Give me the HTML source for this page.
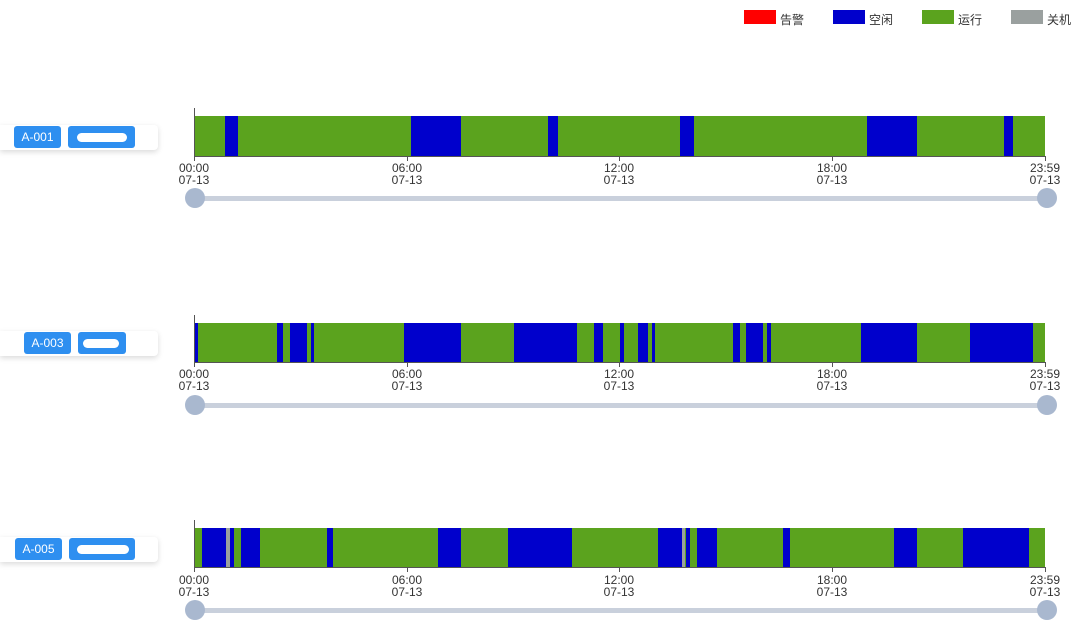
<!DOCTYPE html>
<html><head><meta charset="utf-8"><style>
body{margin:0;width:1080px;height:637px;background:#fff;overflow:hidden;font-family:"Liberation Sans","Noto Sans CJK SC",sans-serif}
.card{position:absolute;left:0;width:158px;height:25px;background:#fff;box-shadow:0 2px 6px rgba(0,0,0,.15);border-radius:0 4px 4px 0}
.pill{position:absolute;top:1px;height:22px;background:#2e8ff0;border-radius:3px;color:#fff;font-size:12px;line-height:22px;text-align:center}
.blob{position:absolute;top:7px;height:9px;background:#fff;border-radius:5px}
svg{position:absolute;left:0;top:0}
</style></head><body>
<div class="card" style="top:125px"><div class="pill" style="left:14px;width:47px">A-001</div><div class="pill" style="left:68px;width:67px"><div class="blob" style="left:9px;width:50px"></div></div></div>
<div class="card" style="top:331px"><div class="pill" style="left:24px;width:47px">A-003</div><div class="pill" style="left:78px;width:48px"><div class="blob" style="left:5px;width:36px"></div></div></div>
<div class="card" style="top:537px"><div class="pill" style="left:15px;width:47px">A-005</div><div class="pill" style="left:69px;width:66px"><div class="blob" style="left:8px;width:52px"></div></div></div>
<svg width="1080" height="637" font-family="Liberation Sans, Noto Sans CJK SC, sans-serif">
<g font-size="12" fill="#333">
<rect x="744" y="10" width="32" height="14" fill="#ff0000"/><text x="780" y="24">告警</text>
<rect x="833" y="10" width="32" height="14" fill="#0000cc"/><text x="869" y="24">空闲</text>
<rect x="922" y="10" width="32" height="14" fill="#5ba31e"/><text x="958" y="24">运行</text>
<rect x="1011" y="10" width="32" height="14" fill="#9aa09f"/><text x="1047" y="24">关机</text>
</g>
<!-- row 1 -->
<g>
<rect x="194" y="116" width="851" height="40" fill="#5ba31e"/>
<g fill="#0000cc">
<rect x="225" y="116" width="13" height="40"/><rect x="411" y="116" width="50" height="40"/><rect x="548" y="116" width="10" height="40"/><rect x="680" y="116" width="14" height="40"/><rect x="867" y="116" width="50" height="40"/><rect x="1004" y="116" width="9" height="40"/>
</g></g>
<!-- row 2 -->
<g>
<rect x="194" y="323" width="851" height="39" fill="#5ba31e"/>
<g fill="#0000cc">
<rect x="195" y="323" width="3" height="39"/><rect x="277" y="323" width="6" height="39"/><rect x="290" y="323" width="17" height="39"/><rect x="311" y="323" width="3" height="39"/><rect x="404" y="323" width="57" height="39"/><rect x="514" y="323" width="63" height="39"/><rect x="594" y="323" width="9" height="39"/><rect x="620" y="323" width="4" height="39"/><rect x="638" y="323" width="10" height="39"/><rect x="652" y="323" width="3" height="39"/><rect x="733" y="323" width="7" height="39"/><rect x="746" y="323" width="17" height="39"/><rect x="767" y="323" width="4" height="39"/><rect x="861" y="323" width="56" height="39"/><rect x="970" y="323" width="63" height="39"/>
</g></g>
<!-- row 3 -->
<g>
<rect x="194" y="528" width="851" height="39" fill="#5ba31e"/>
<g fill="#0000cc">
<rect x="202" y="528" width="24" height="39"/><rect x="230" y="528" width="4" height="39"/><rect x="241" y="528" width="19" height="39"/><rect x="327" y="528" width="6" height="39"/><rect x="438" y="528" width="23" height="39"/><rect x="508" y="528" width="64" height="39"/><rect x="658" y="528" width="24" height="39"/><rect x="686" y="528" width="4" height="39"/><rect x="697" y="528" width="20" height="39"/><rect x="783" y="528" width="7" height="39"/><rect x="894" y="528" width="23" height="39"/><rect x="963" y="528" width="66" height="39"/>
</g>
<g fill="#9aa09f"><rect x="226" y="528" width="4" height="39"/><rect x="682" y="528" width="3" height="39"/></g>
</g>
<!-- axes -->
<g stroke="#555" stroke-width="1" fill="none">
<path d="M194.5 108V157M194 156.5H1046M194.5 156v5M407.5 156v5M619.5 156v5M832.5 156v5M1045.5 156v5"/>
<path d="M194.5 315V363M194 362.5H1046M194.5 362v5M407.5 362v5M619.5 362v5M832.5 362v5M1045.5 362v5"/>
<path d="M194.5 520V568M194 567.5H1046M194.5 567v5M407.5 567v5M619.5 567v5M832.5 567v5M1045.5 567v5"/>
</g>
<g font-size="12" fill="#333" text-anchor="middle">
<text x="194" y="172">00:00</text><text x="194" y="184">07-13</text>
<text x="407" y="172">06:00</text><text x="407" y="184">07-13</text>
<text x="619" y="172">12:00</text><text x="619" y="184">07-13</text>
<text x="832" y="172">18:00</text><text x="832" y="184">07-13</text>
<text x="1045" y="172">23:59</text><text x="1045" y="184">07-13</text>
<text x="194" y="378">00:00</text><text x="194" y="390">07-13</text>
<text x="407" y="378">06:00</text><text x="407" y="390">07-13</text>
<text x="619" y="378">12:00</text><text x="619" y="390">07-13</text>
<text x="832" y="378">18:00</text><text x="832" y="390">07-13</text>
<text x="1045" y="378">23:59</text><text x="1045" y="390">07-13</text>
<text x="194" y="584">00:00</text><text x="194" y="596">07-13</text>
<text x="407" y="584">06:00</text><text x="407" y="596">07-13</text>
<text x="619" y="584">12:00</text><text x="619" y="596">07-13</text>
<text x="832" y="584">18:00</text><text x="832" y="596">07-13</text>
<text x="1045" y="584">23:59</text><text x="1045" y="596">07-13</text>
</g>
<!-- sliders -->
<g>
<rect x="194" y="196" width="853" height="5" rx="2" fill="#c9d0dc"/>
<circle cx="195" cy="198" r="10" fill="#a9b8cf"/><circle cx="1047" cy="198" r="10" fill="#a9b8cf"/>
<rect x="194" y="403" width="853" height="5" rx="2" fill="#c9d0dc"/>
<circle cx="195" cy="405" r="10" fill="#a9b8cf"/><circle cx="1047" cy="405" r="10" fill="#a9b8cf"/>
<rect x="194" y="608" width="853" height="5" rx="2" fill="#c9d0dc"/>
<circle cx="195" cy="610" r="10" fill="#a9b8cf"/><circle cx="1047" cy="610" r="10" fill="#a9b8cf"/>
</g>
</svg>
</body></html>
